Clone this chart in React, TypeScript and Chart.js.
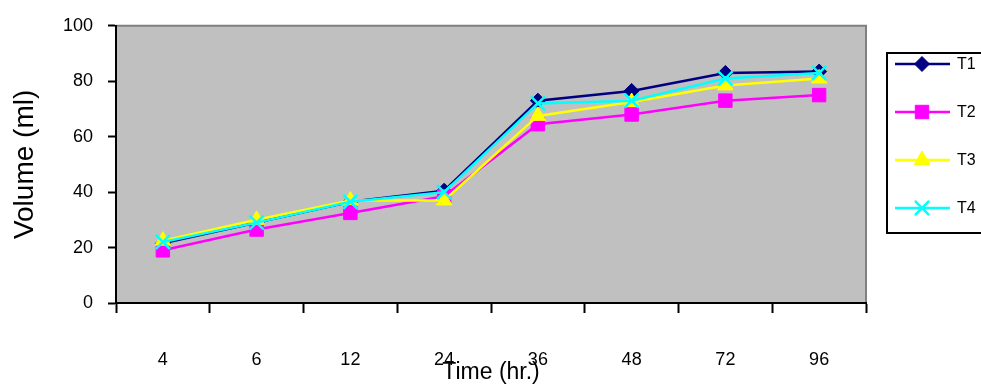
import React, { useEffect, useRef } from 'react';
import { Chart, registerables } from 'chart.js';
import { drawPoint } from 'chart.js/helpers';

Chart.register(...registerables);

const categories = ['4', '6', '12', '24', '36', '48', '72', '96'];
const t1 = [21.5, 29, 36.5, 40.5, 73, 76.5, 83, 83.5];
const t2 = [19, 26.5, 32.5, 38.5, 64.5, 68, 73, 75];
const t3 = [22.5, 30, 37, 37, 67.5, 72.5, 78.5, 81];
const t4 = [22, 29, 36.5, 40, 72, 73, 81, 83];
const seriesNames = ['T1', 'T2', 'T3', 'T4'];
const yMin = 0;
const yMax = 100;
const yStep = 20;
const xTitle = 'Time (hr.)';
const yTitle = 'Volume (ml)';

const FONT = '"Liberation Sans", Arial, sans-serif';

const styles = [
  { color: '#000080', pointStyle: 'rectRot', radius: 7.5, bw: 1 },
  { color: '#FF00FF', pointStyle: 'rect', radius: 9.5, bw: 1 },
  { color: '#FFFF00', pointStyle: 'triangle', radius: 9, bw: 1 },
  { color: '#00FFFF', pointStyle: 'crossRot', radius: 10, bw: 2.5 },
];

const plotBg = {
  id: 'plotBg',
  beforeDraw(chart: any) {
    const { ctx, chartArea: a } = chart;
    ctx.save();
    ctx.fillStyle = '#C0C0C0';
    ctx.fillRect(a.left, a.top, a.right - a.left, a.bottom - a.top);
    ctx.strokeStyle = '#808080';
    ctx.lineWidth = 2;
    ctx.beginPath();
    ctx.moveTo(a.left, a.top);
    ctx.lineTo(a.right, a.top);
    ctx.lineTo(a.right, a.bottom);
    ctx.stroke();
    ctx.restore();
  },
};

const customLegend = {
  id: 'customLegend',
  afterDraw(chart: any) {
    const { ctx } = chart;
    ctx.save();
    ctx.strokeStyle = '#000';
    ctx.lineWidth = 2;
    ctx.strokeRect(887, 53, 120, 180);
    seriesNames.forEach((name, i) => {
      const y = 64 + i * 48;
      const s = styles[i];
      ctx.strokeStyle = s.color;
      ctx.lineWidth = 2.5;
      ctx.beginPath();
      ctx.moveTo(895, y);
      ctx.lineTo(950, y);
      ctx.stroke();
      ctx.fillStyle = s.color;
      ctx.strokeStyle = s.color;
      ctx.lineWidth = s.bw;
      drawPoint(ctx, { pointStyle: s.pointStyle, radius: s.radius, borderWidth: s.bw, rotation: 0 } as any, 922, y);
      ctx.fillStyle = '#000';
      ctx.font = `16px ${FONT}`;
      ctx.textBaseline = 'middle';
      ctx.textAlign = 'left';
      ctx.fillText(name, 957, y + 1);
    });
    ctx.restore();
  },
};

export default function App() {
  const ref = useRef<HTMLCanvasElement>(null);
  useEffect(() => {
    if (!ref.current) return;
    const data = [t1, t2, t3, t4];
    const chart = new Chart(ref.current, {
      type: 'line',
      data: {
        labels: categories,
        datasets: data.map((d, i) => ({
          label: seriesNames[i],
          data: d,
          borderColor: styles[i].color,
          backgroundColor: styles[i].color,
          pointBackgroundColor: styles[i].color,
          pointBorderColor: styles[i].color,
          pointStyle: styles[i].pointStyle as any,
          pointRadius: styles[i].radius,
          pointBorderWidth: styles[i].bw,
          borderWidth: 2.5,
          tension: 0,
          fill: false,
          order: 4 - i,
          clip: false as any,
        })),
      },
      options: {
        responsive: false,
        animation: false,
        devicePixelRatio: 1,
        layout: { padding: { left: 0, top: 21, right: 115, bottom: 0 } },
        plugins: { legend: { display: false }, tooltip: { enabled: false } },
        scales: {
          x: {
            type: 'category',
            offset: true,
            grid: {
              offset: true,
              drawOnChartArea: false,
              drawTicks: true,
              tickLength: 10,
              tickWidth: 2,
              color: '#000',
            },
            border: { display: true, color: '#000', width: 2 },
            ticks: { color: '#000', padding: 36, font: { family: FONT, size: 18 }, maxRotation: 0 },
            title: {
              display: true,
              text: xTitle,
              color: '#000',
              font: { family: FONT, size: 23 },
              padding: { top: 0, bottom: 6 },
            },
            afterFit: (scale: any) => {
              scale.height = 89;
            },
          },
          y: {
            min: yMin,
            max: yMax,
            ticks: { stepSize: yStep, color: '#000', padding: 15, font: { family: FONT, size: 18 } },
            grid: {
              drawOnChartArea: false,
              drawTicks: true,
              tickLength: 8,
              tickWidth: 2,
              color: '#000',
            },
            border: { display: true, color: '#000', width: 2 },
            title: {
              display: true,
              text: yTitle,
              color: '#000',
              font: { family: FONT, size: 28 },
              padding: { top: 8, bottom: 0 },
            },
            afterFit: (scale: any) => {
              scale.width = 116;
            },
          },
        },
      },
      plugins: [plotBg, customLegend],
    });
    return () => chart.destroy();
  }, []);
  return (
    <div style={{ position: 'absolute', left: 0, top: 0, width: 981, height: 392, background: '#fff' }}>
      <canvas ref={ref} width={981} height={392} style={{ display: 'block', width: 981, height: 392 }} />
    </div>
  );
}
